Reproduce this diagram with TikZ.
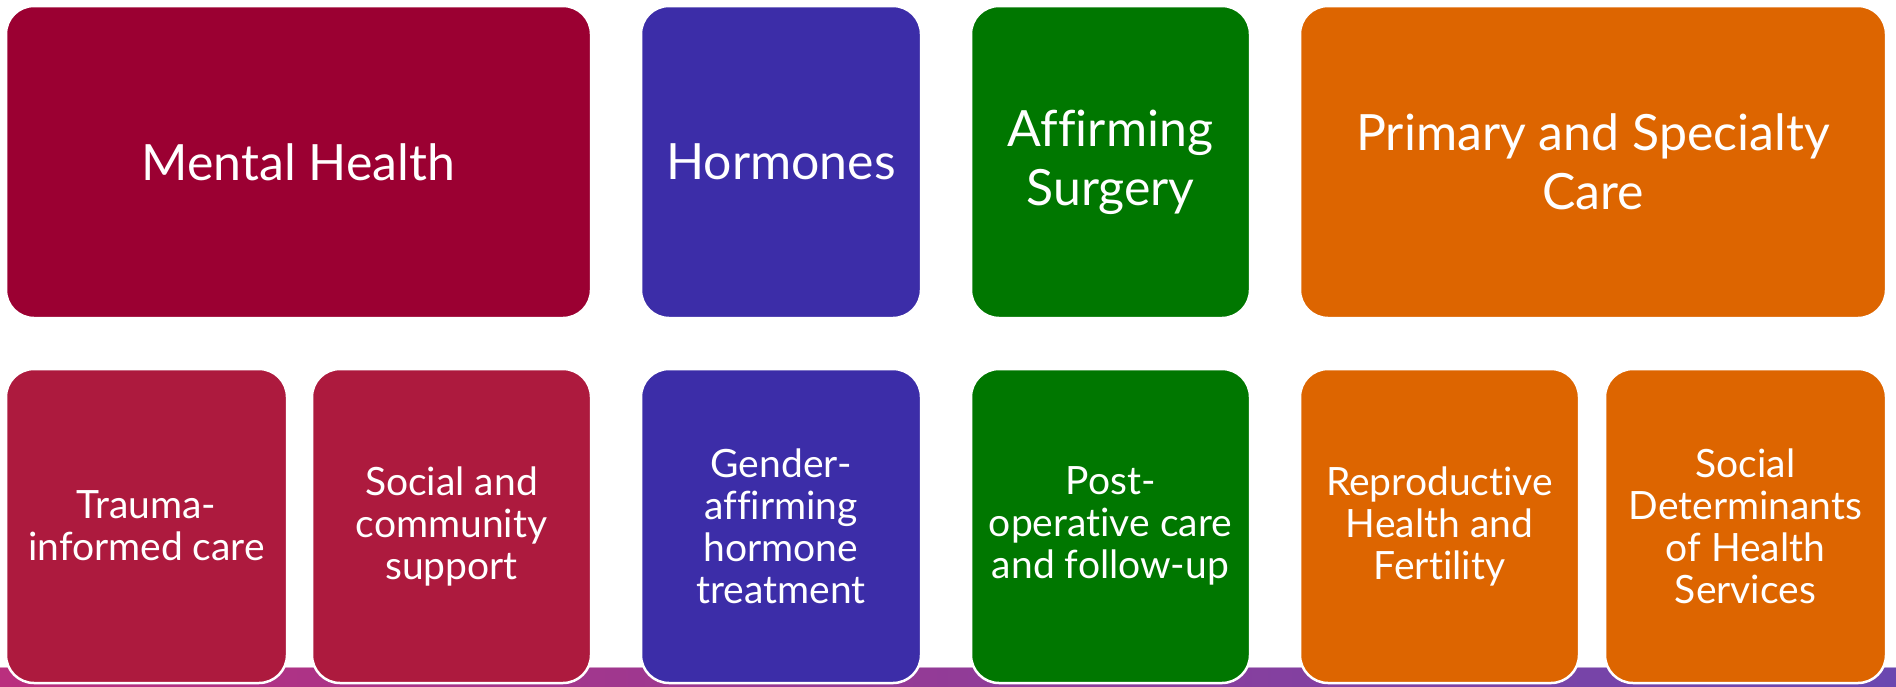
\documentclass[tikz,border=0pt]{standalone}
\usepackage{fontspec}
\setmainfont[Ligatures=NoCommon]{Lato}
\definecolor{mhdark}{HTML}{9B0032}
\definecolor{mhlight}{HTML}{AD1A3E}
\definecolor{hormone}{HTML}{3C2DA8}
\definecolor{surgery}{HTML}{007700}
\definecolor{care}{HTML}{DD6500}
\definecolor{barleft}{HTML}{BA2F7E}
\definecolor{barright}{HTML}{6A48B0}
\begin{document}
\begin{tikzpicture}[x=1pt,y=-1pt,
  card/.style={draw=white, line width=2.5pt, rounded corners=28pt, text=white,
    align=center, inner sep=0pt, outer sep=0pt, anchor=north west},
  headcard/.style={card, minimum height=312pt, font=\fontsize{50}{59}\selectfont},
  subcard/.style={card, minimum height=314pt, font=\fontsize{39}{42}\selectfont}]
\useasboundingbox (0,0) rectangle (1896,686);
% gradient band along the bottom edge
\shade[left color=barleft, right color=barright] (0,667) rectangle (1896,686);
\fill[white, opacity=0.5] (0,666) rectangle (1896,668);
% top row: service areas
\node[headcard, fill=mhdark, minimum width=585pt] (mh) at (6,6) {Mental Health};
\node[headcard, fill=hormone, minimum width=280pt] (hor) at (641,6) {Hormones};
\node[headcard, fill=surgery, minimum width=279pt] (aff) at (971,6) {Affirming\\Surgery};
\node[headcard, fill=care, minimum width=586pt] (pri) at (1300,6) {Primary and Specialty\\Care};
% bottom row: components
\node[subcard, fill=mhlight, minimum width=281pt] (tra) at (6,369) {Trauma-\\informed care};
\node[subcard, fill=mhlight, minimum width=279pt] (soc) at (312,369) {Social and\\community\\support};
\node[subcard, fill=hormone, minimum width=280pt] (gen) at (641,369) {Gender-\\affirming\\hormone\\treatment};
\node[subcard, fill=surgery, minimum width=279pt] (post) at (971,369) {Post-\\operative care\\and follow-up};
\node[subcard, fill=care, minimum width=279pt] (rep) at (1300,369) {Reproductive\\Health and\\Fertility};
\node[subcard, fill=care, minimum width=281pt] (sdh) at (1605,369) {Social\\Determinants\\of Health\\Services};
\end{tikzpicture}
\end{document}
